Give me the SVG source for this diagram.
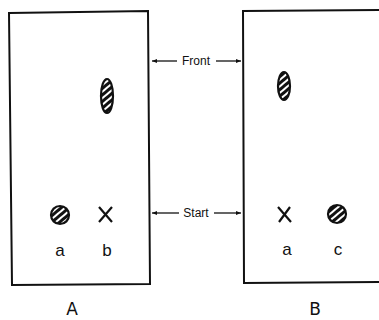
<svg xmlns="http://www.w3.org/2000/svg" width="379" height="320" viewBox="0 0 379 320">
<style>
.plate{fill:none;stroke:#111;stroke-width:2}
.spot{fill:url(#hatch);stroke:#111;stroke-width:2.2}
.x{stroke:#111;stroke-width:2.2;fill:none}
.lbl{font-family:"Liberation Sans",Arial,sans-serif;font-size:17px;fill:#111;text-anchor:middle}
.big{font-family:"DejaVu Sans",sans-serif;font-size:17px;fill:#111;text-anchor:middle}
.small{font-family:"Liberation Sans",Arial,sans-serif;font-size:12px;fill:#111;text-anchor:middle}
.con{stroke:#111;stroke-width:1.3;fill:none}
</style>
<defs>
<pattern id="hatch" patternUnits="userSpaceOnUse" width="5" height="5" patternTransform="rotate(-40)">
<rect width="5" height="5" fill="#111"/>
<rect y="0" width="5" height="2" fill="#fff"/>
</pattern>
<marker id="ah" viewBox="0 0 10 10" refX="10" refY="5" markerWidth="7" markerHeight="5" orient="auto" markerUnits="userSpaceOnUse">
<path d="M0,1 L10,5 L0,9 z" fill="#111"/>
</marker>
</defs>
<g id="plateA">
<path class="plate" d="M9,13 L148,11 L150,284 L12,285 Z"/>
<ellipse class="spot" cx="107" cy="96" rx="6" ry="17"/>
<circle class="spot" cx="60" cy="215" r="9"/>
<path class="x" d="M99,207 L112,222 M112,207 L99,222"/>
<text class="lbl" x="60" y="256">a</text>
<text class="lbl" x="107" y="256">b</text>
<text class="big" x="72" y="315">A</text>
</g>
<g id="plateB">
<path class="plate" d="M379,10 L243,11 L244,283 L379,282"/>
<ellipse class="spot" cx="284" cy="86" rx="6" ry="14"/>
<path class="x" d="M278,207 L291,222 M290,207 L279,222"/>
<circle class="spot" cx="337" cy="214" r="9"/>
<text class="lbl" x="287" y="255">a</text>
<text class="lbl" x="338" y="255">c</text>
<text class="big" x="315" y="315">B</text>
</g>
<g id="labels">
<text class="small" x="196" y="65">Front</text>
<text class="small" x="196" y="217">Start</text>
</g>
<g id="connectors">
<line class="con" x1="177" y1="61" x2="152" y2="61" marker-end="url(#ah)"/>
<line class="con" x1="216" y1="61" x2="241" y2="61" marker-end="url(#ah)"/>
<line class="con" x1="179" y1="213" x2="152" y2="213" marker-end="url(#ah)"/>
<line class="con" x1="214" y1="213" x2="241" y2="213" marker-end="url(#ah)"/>
</g>
</svg>
